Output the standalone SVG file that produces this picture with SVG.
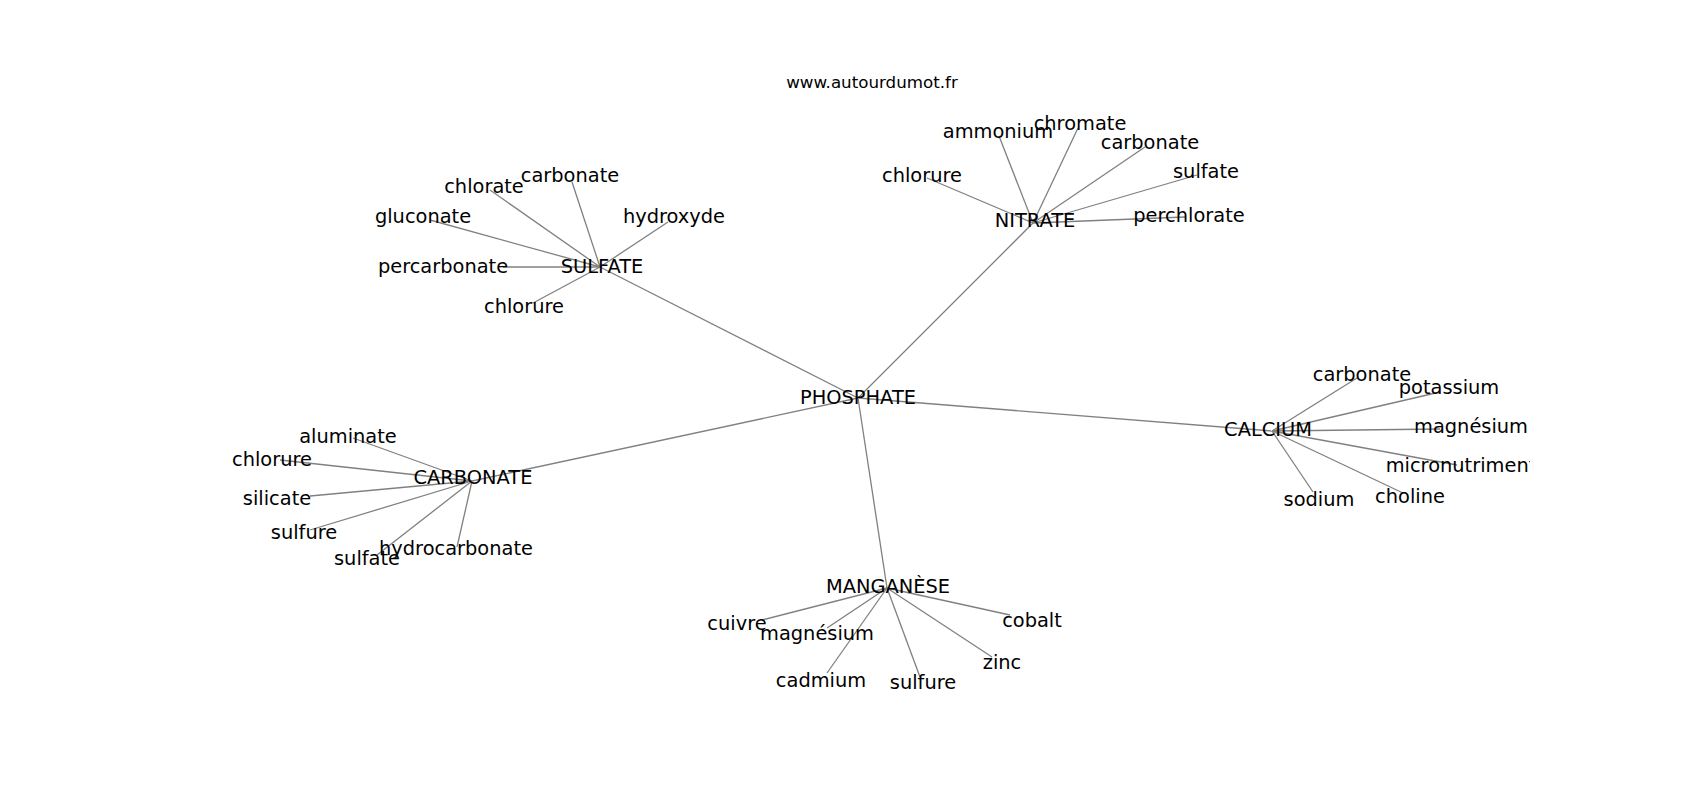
<svg xmlns="http://www.w3.org/2000/svg" width="1700" height="800" viewBox="0 0 1700 800">
<defs>
<style>
.lbl{font-family:"DejaVu Sans",sans-serif;font-size:19.4px;fill:#000;text-anchor:middle}
.ttl{font-family:"DejaVu Sans",sans-serif;font-size:16.7px;fill:#000;text-anchor:middle}
.e{stroke:#808080;stroke-width:1.3;fill:none}
</style>
<clipPath id="ax"><rect x="212.5" y="96" width="1317.5" height="616"/></clipPath>
</defs>
<rect width="1700" height="800" fill="#fff"/>
<text class="ttl" x="872" y="88">www.autourdumot.fr</text>
<g id="connectors">
<line class="e" x1="858" y1="398" x2="600" y2="267"/>
<line class="e" x1="858" y1="398" x2="1033" y2="223"/>
<line class="e" x1="858" y1="398" x2="472" y2="481"/>
<line class="e" x1="858" y1="398" x2="1272" y2="431"/>
<line class="e" x1="858" y1="398" x2="887" y2="588"/>
<line class="e" x1="600" y1="267" x2="490" y2="190"/>
<line class="e" x1="600" y1="267" x2="572" y2="182"/>
<line class="e" x1="600" y1="267" x2="668" y2="222"/>
<line class="e" x1="600" y1="267" x2="430" y2="220"/>
<line class="e" x1="600" y1="267" x2="503" y2="267"/>
<line class="e" x1="600" y1="267" x2="533" y2="303"/>
<line class="e" x1="1033" y1="223" x2="999" y2="136"/>
<line class="e" x1="1033" y1="223" x2="1078" y2="128"/>
<line class="e" x1="1033" y1="223" x2="1145" y2="147"/>
<line class="e" x1="1033" y1="223" x2="927" y2="178"/>
<line class="e" x1="1033" y1="223" x2="1197" y2="175"/>
<line class="e" x1="1033" y1="223" x2="1185" y2="217"/>
<line class="e" x1="472" y1="481" x2="353" y2="438"/>
<line class="e" x1="472" y1="481" x2="280" y2="460"/>
<line class="e" x1="472" y1="481" x2="310" y2="496"/>
<line class="e" x1="472" y1="481" x2="310" y2="530"/>
<line class="e" x1="472" y1="481" x2="377" y2="555"/>
<line class="e" x1="472" y1="481" x2="457" y2="547"/>
<line class="e" x1="1272" y1="431" x2="1357" y2="378"/>
<line class="e" x1="1272" y1="431" x2="1440" y2="392"/>
<line class="e" x1="1272" y1="431" x2="1440" y2="429"/>
<line class="e" x1="1272" y1="431" x2="1457" y2="465"/>
<line class="e" x1="1272" y1="431" x2="1403" y2="493"/>
<line class="e" x1="1272" y1="431" x2="1313" y2="492"/>
<line class="e" x1="887" y1="588" x2="762" y2="620"/>
<line class="e" x1="887" y1="588" x2="827" y2="628"/>
<line class="e" x1="887" y1="588" x2="827" y2="673"/>
<line class="e" x1="887" y1="588" x2="920" y2="677"/>
<line class="e" x1="887" y1="588" x2="992" y2="657"/>
<line class="e" x1="887" y1="588" x2="1010" y2="615"/>
</g>
<g id="labels" clip-path="url(#ax)">
<g id="n-phosphate"><text class="lbl" x="858" y="404">PHOSPHATE</text></g>
<g id="n-sulfate"><text class="lbl" x="602" y="273">SULFATE</text></g>
<g id="n-sulfate-chlorate"><text class="lbl" x="484" y="193">chlorate</text></g>
<g id="n-sulfate-carbonate"><text class="lbl" x="570" y="182">carbonate</text></g>
<g id="n-sulfate-hydroxyde"><text class="lbl" x="674" y="223">hydroxyde</text></g>
<g id="n-sulfate-gluconate"><text class="lbl" x="423" y="223">gluconate</text></g>
<g id="n-sulfate-percarbonate"><text class="lbl" x="443" y="273">percarbonate</text></g>
<g id="n-sulfate-chlorure"><text class="lbl" x="524" y="313">chlorure</text></g>
<g id="n-nitrate"><text class="lbl" x="1035" y="227">NITRATE</text></g>
<g id="n-nitrate-ammonium"><text class="lbl" x="998" y="138">ammonium</text></g>
<g id="n-nitrate-chromate"><text class="lbl" x="1080" y="130">chromate</text></g>
<g id="n-nitrate-carbonate"><text class="lbl" x="1150" y="149">carbonate</text></g>
<g id="n-nitrate-chlorure"><text class="lbl" x="922" y="182">chlorure</text></g>
<g id="n-nitrate-sulfate"><text class="lbl" x="1206" y="178">sulfate</text></g>
<g id="n-nitrate-perchlorate"><text class="lbl" x="1189" y="222">perchlorate</text></g>
<g id="n-carbonate"><text class="lbl" x="473" y="484">CARBONATE</text></g>
<g id="n-carbonate-aluminate"><text class="lbl" x="348" y="443">aluminate</text></g>
<g id="n-carbonate-chlorure"><text class="lbl" x="272" y="466">chlorure</text></g>
<g id="n-carbonate-silicate"><text class="lbl" x="277" y="505">silicate</text></g>
<g id="n-carbonate-sulfure"><text class="lbl" x="304" y="539">sulfure</text></g>
<g id="n-carbonate-sulfate"><text class="lbl" x="367" y="565">sulfate</text></g>
<g id="n-carbonate-hydrocarbonate"><text class="lbl" x="456" y="555">hydrocarbonate</text></g>
<g id="n-calcium"><text class="lbl" x="1268" y="436">CALCIUM</text></g>
<g id="n-calcium-carbonate"><text class="lbl" x="1362" y="381">carbonate</text></g>
<g id="n-calcium-potassium"><text class="lbl" x="1449" y="394">potassium</text></g>
<g id="n-calcium-magnesium"><text class="lbl" x="1471" y="433">magnésium</text></g>
<g id="n-calcium-micronutriment"><text class="lbl" x="1461" y="472">micronutriment</text></g>
<g id="n-calcium-choline"><text class="lbl" x="1410" y="503">choline</text></g>
<g id="n-calcium-sodium"><text class="lbl" x="1319" y="506">sodium</text></g>
<g id="n-manganese"><text class="lbl" x="888" y="593">MANGANÈSE</text></g>
<g id="n-manganese-cuivre"><text class="lbl" x="737" y="630">cuivre</text></g>
<g id="n-manganese-magnesium"><text class="lbl" x="817" y="640">magnésium</text></g>
<g id="n-manganese-cadmium"><text class="lbl" x="821" y="687">cadmium</text></g>
<g id="n-manganese-sulfure"><text class="lbl" x="923" y="689">sulfure</text></g>
<g id="n-manganese-zinc"><text class="lbl" x="1002" y="669">zinc</text></g>
<g id="n-manganese-cobalt"><text class="lbl" x="1032" y="627">cobalt</text></g>
</g>
</svg>
